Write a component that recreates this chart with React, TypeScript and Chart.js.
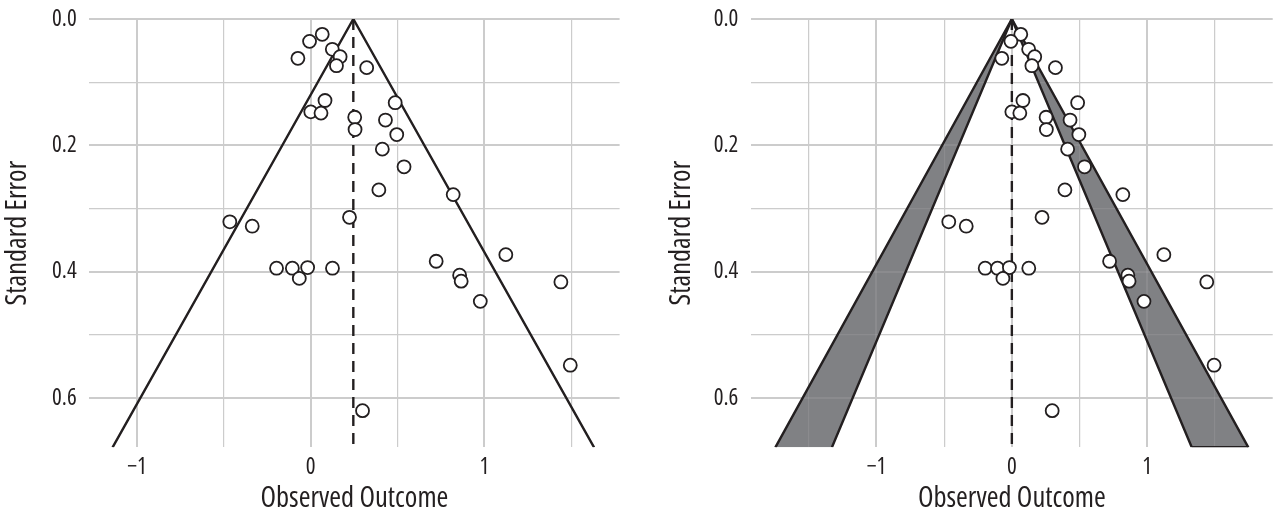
import React, { useEffect, useRef } from 'react';
import { Chart, registerables } from 'chart.js';

Chart.register(...registerables);

// ---- data ----
const observedOutcome = [
  0.066, -0.007, 0.124, 0.169, -0.074, 0.148, 0.322, 0.082, 0.486, 0.0,
  0.059, 0.253, 0.43, 0.255, 0.495, 0.412, 0.537, 0.392, 0.82, 0.223,
  -0.466, -0.337, 1.123, 0.722, -0.197, -0.106, -0.018, 0.125, -0.066, 0.857,
  0.866, 1.44, 0.976, 1.494, 0.298,
];
const standardError = [
  0.0243, 0.0354, 0.048, 0.0597, 0.0623, 0.0739, 0.077, 0.129, 0.1325, 0.147,
  0.149, 0.1555, 0.16, 0.175, 0.183, 0.206, 0.234, 0.2705, 0.278, 0.314,
  0.321, 0.328, 0.373, 0.3835, 0.3945, 0.3945, 0.3935, 0.3945, 0.4106, 0.4055,
  0.415, 0.4162, 0.447, 0.548, 0.62,
];

const seMax = 0.678;
const xGridValues = [-1.5, -1, -0.5, 0, 0.5, 1, 1.5];
const xLabelValues = [-1, 0, 1];
const yGridValues = [0, 0.1, 0.2, 0.3, 0.4, 0.5, 0.6];
const yLabelValues = [0, 0.2, 0.4, 0.6];

// left panel: funnel around the pooled estimate
const leftEstimate = 0.245;
const leftFunnelX = [-1.141, 0.245, 1.631];
const leftFunnelSE = [0.678, 0, 0.678];
const leftXRange = [-1.275, 1.778];

// right panel: contour-enhanced funnel around zero
const rightEstimate = 0;
const rightOuterX = [-1.747, 0, 1.747];
const rightInnerX = [-1.329, 0, 1.329];
const rightFunnelSE = [0.678, 0, 0.678];
const rightXRange = [-1.927, 1.927];

// ---- styles ----
const INK = '#231f20';
const GRID = '#cccccc';
const SHADE = '#808184';
const FAMILY = "'Open Sans', 'DejaVu Sans Condensed', sans-serif";
// 'condensed' ends up in the canvas font shorthand as the font-stretch keyword
const TICK_FONT = { family: FAMILY, size: 23, weight: '500 condensed' };
const TITLE_FONT = { family: FAMILY, size: 28.5, weight: '500 condensed' };

const pts = (xs: number[], ys: number[]) => xs.map((x, i) => ({ x, y: ys[i] }));

const gridOverShade = {
  id: 'gridOverShade',
  afterDatasetDraw(chart: any, args: any) {
    const ds = chart.data.datasets[args.index];
    if (!ds || ds.label !== 'shade-last') return;
    const { ctx, chartArea } = chart;
    ctx.save();
    ctx.beginPath();
    ctx.rect(chartArea.left, chartArea.top, chartArea.right - chartArea.left, chartArea.bottom - chartArea.top);
    ctx.clip();
    ctx.globalAlpha = 0.14;
    chart.scales.x.drawGrid(chartArea);
    chart.scales.y.drawGrid(chartArea);
    ctx.restore();
  },
};

type PanelProps = {
  width: number;
  yAxisWidth: number;
  rightPad: number;
  yTitlePad: number;
  xRange: number[];
  extra: any[];
};

function buildConfig(p: PanelProps) {
  const points = {
    type: 'scatter',
    label: 'studies',
    data: pts(observedOutcome, standardError),
    pointStyle: 'circle',
    pointRadius: 6.5,
    pointBorderWidth: 1.8,
    pointBackgroundColor: '#ffffff',
    pointBorderColor: INK,
    showLine: false,
  };
  return {
    type: 'scatter',
    data: { datasets: [points, ...p.extra] },
    plugins: [gridOverShade],
    options: {
      responsive: false,
      animation: false,
      events: [],
      layout: { padding: { left: 0, right: p.rightPad, top: 19, bottom: 0 } },
      plugins: { legend: { display: false }, tooltip: { enabled: false } },
      scales: {
        x: {
          type: 'linear',
          min: p.xRange[0],
          max: p.xRange[1],
          afterBuildTicks: (scale: any) => {
            scale.ticks = xGridValues.filter((v) => v >= scale.min && v <= scale.max).map((v) => ({ value: v }));
          },
          afterFit: (scale: any) => {
            scale.height = 68.7;
            scale.paddingLeft = 0;
            scale.paddingRight = 0;
          },
          grid: {
            color: GRID,
            lineWidth: (c: any) => (c.tick && xLabelValues.includes(c.tick.value) ? 2 : 1.2),
            drawTicks: false,
          },
          border: { display: false },
          ticks: {
            autoSkip: false,
            maxRotation: 0,
            padding: 6.4,
            color: INK,
            font: TICK_FONT,
            callback: (v: any) => {
              const n = Number(v);
              if (!xLabelValues.includes(n)) return '';
              return n < 0 ? '\u2212' + Math.abs(n) : String(n);
            },
          },
          title: {
            display: true,
            text: 'Observed Outcome',
            color: INK,
            font: TITLE_FONT,
            padding: { top: 0, bottom: 0 },
          },
        },
        y: {
          type: 'linear',
          reverse: true,
          min: 0,
          max: seMax,
          afterBuildTicks: (scale: any) => {
            scale.ticks = yGridValues.map((v) => ({ value: v }));
          },
          afterFit: (scale: any) => {
            scale.width = p.yAxisWidth;
            scale.paddingTop = 0;
            scale.paddingBottom = 0;
          },
          grid: {
            color: GRID,
            lineWidth: (c: any) => (c.tick && yLabelValues.includes(c.tick.value) ? 2 : 1.2),
            drawTicks: false,
          },
          border: { display: false },
          ticks: {
            autoSkip: false,
            padding: 12.6,
            color: INK,
            font: TICK_FONT,
            callback: (v: any) => {
              const n = Number(v);
              return yLabelValues.includes(n) ? n.toFixed(1) : '';
            },
          },
          title: {
            display: true,
            text: 'Standard Error',
            color: INK,
            font: TITLE_FONT,
            padding: { top: p.yTitlePad, bottom: 0 },
          },
        },
      },
    },
  };
}

const lineDs = (label: string, data: any[], extra: any = {}) => ({
  type: 'line',
  label,
  data,
  borderColor: INK,
  borderWidth: 2.4,
  pointRadius: 0,
  fill: false,
  tension: 0,
  borderJoinStyle: 'miter',
  ...extra,
});

const leftExtra = [
  lineDs('estimate', pts([leftEstimate, leftEstimate], [0, seMax]), { borderDash: [11, 7] }),
  lineDs('funnel', pts(leftFunnelX, leftFunnelSE)),
];

const shadeDs = (label: string, data: any[]) => ({
  type: 'line',
  label,
  data,
  borderColor: 'rgba(0,0,0,0)',
  borderWidth: 0,
  backgroundColor: SHADE,
  pointRadius: 0,
  fill: 'shape',
  tension: 0,
});

const rightExtra = [
  lineDs('estimate', pts([rightEstimate, rightEstimate], [0, seMax]), { borderDash: [11, 7] }),
  lineDs('outer', pts(rightOuterX, rightFunnelSE)),
  lineDs('inner', pts(rightInnerX, rightFunnelSE)),
  lineDs('bottom-edge', pts([rightInnerX[2], rightOuterX[2]], [seMax, seMax])),
  shadeDs('shade-last', pts([rightOuterX[0], rightOuterX[1], rightInnerX[0], rightOuterX[0]], [seMax, 0, seMax, seMax])),
  shadeDs('shade-right', pts([rightOuterX[2], rightOuterX[1], rightInnerX[2], rightOuterX[2]], [seMax, 0, seMax, seMax])),
];

function Panel(props: PanelProps) {
  const ref = useRef<HTMLCanvasElement | null>(null);
  useEffect(() => {
    if (!ref.current) return;
    const chart = new Chart(ref.current, buildConfig(props) as any);
    return () => chart.destroy();
  }, []);
  return <canvas ref={ref} width={props.width} height={516} style={{ display: 'block', width: props.width, height: 516 }} />;
}

export default function App() {
  return (
    <div style={{ position: 'absolute', left: 0, top: 0, width: 1281, height: 516, display: 'flex', background: '#ffffff' }}>
      <Panel width={640} yAxisWidth={89.3} rightPad={20.4} yTitlePad={0.9} xRange={leftXRange} extra={leftExtra} />
      <Panel width={641} yAxisWidth={111} rightPad={0} yTitlePad={24.6} xRange={rightXRange} extra={rightExtra} />
    </div>
  );
}
